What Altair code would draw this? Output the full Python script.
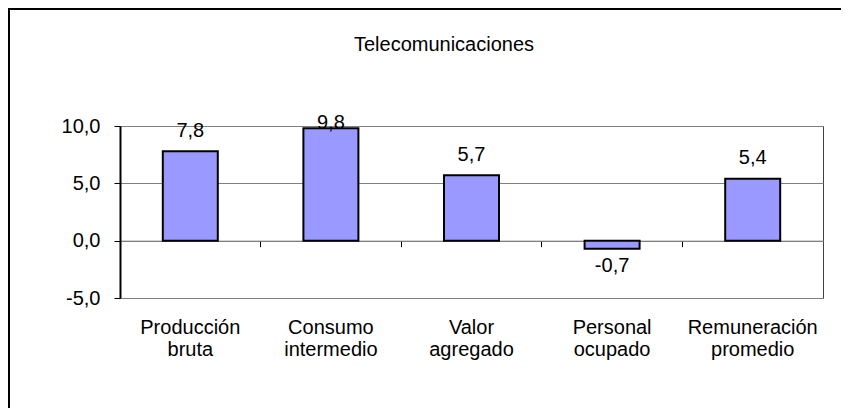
import altair as alt
import pandas as pd

categories = ["Producción bruta", "Consumo intermedio", "Valor agregado",
              "Personal ocupado", "Remuneración promedio"]
values = [7.8, 9.8, 5.7, -0.7, 5.4]
y_ticks = [-5, 0, 5, 10]
title_text = "Telecomunicaciones"

FONT = "Liberation Sans, Arial, sans-serif"
W, H = 703, 172
Y_MIN, Y_MAX = -5, 10
zero_offset = -(H - (Y_MAX - 0) / (Y_MAX - Y_MIN) * H)

df = pd.DataFrame({"cat": categories, "v": values})

fmt = "replace(replace(format(datum.value, '.1f'), '.', ','), '−', '-')"
xscale = alt.Scale(paddingInner=0, paddingOuter=0)
yscale = alt.Scale(domain=[Y_MIN, Y_MAX], nice=False, zero=False)

x_labels = alt.X("cat:N", sort=categories, title=None, scale=xscale,
                 axis=alt.Axis(orient="bottom", domain=False, ticks=False, labelAngle=0,
                               labelFont=FONT, labelFontSize=20, labelColor="black",
                               labelPadding=19, labelLineHeight=22,
                               labelExpr="split(datum.label, ' ')"))

x_zero = alt.X("cat:N", sort=categories, title=None, scale=xscale,
               axis=alt.Axis(orient="bottom", offset=zero_offset, labels=False,
                             ticks=True, bandPosition=0, tickSize=6, tickColor="black",
                             domain=True, domainColor="#808080", domainWidth=1, grid=False))

x_none = alt.X("cat:N", sort=categories, scale=xscale, axis=None)

y_enc = alt.Y("v:Q", title=None, scale=yscale,
              axis=alt.Axis(values=y_ticks, labelExpr=fmt, labelFont=FONT,
                            labelFontSize=20, labelColor="black", labelPadding=14,
                            tickSize=6, tickColor="black", domainColor="black",
                            domainWidth=2, grid=True, gridColor="#808080", gridWidth=1))

base = alt.Chart(df)

labels_layer = base.mark_bar(opacity=0).encode(x=x_labels, y=y_enc)

bars = base.mark_bar(color="#9999FF", stroke="black", strokeWidth=2, size=55).encode(
    x=x_zero, y=alt.Y("v:Q", scale=yscale)
)

lab_expr = "replace(replace(format(datum.v, '.1f'), '.', ','), '−', '-')"
# label anchor: above positive bars (kept near the top of the plot), below negative bars
pos_expr = "datum.v >= 0 ? min(datum.v + 1.8, 10.25) : datum.v - 1.5"
value_text = base.transform_calculate(lbl=lab_expr, ly=pos_expr).mark_text(
    baseline="middle", font=FONT, fontSize=20, color="black").encode(
    x=x_none, y=alt.Y("ly:Q", scale=yscale), text="lbl:N")

one = alt.Chart(pd.DataFrame({"t": [title_text]}))
title = one.mark_text(font=FONT, fontSize=20, color="black", baseline="middle").encode(
    x=alt.value(324), y=alt.value(-81), text="t:N")
border_top = one.mark_rule(color="black", strokeWidth=2).encode(
    x=alt.value(-112), x2=alt.value(W + 60), y=alt.value(-117))
border_left = one.mark_rule(color="black", strokeWidth=2).encode(
    x=alt.value(-111), y=alt.value(-118), y2=alt.value(H + 130))

chart = alt.layer(labels_layer, bars, value_text, title, border_top, border_left).resolve_axis(
    x="independent"
).properties(
    width=W, height=H,
    autosize=alt.AutoSizeParams(type="none"),
    padding={"left": 112, "top": 118, "right": 18, "bottom": 110},
    background="white",
).configure_view(stroke="#404040", strokeWidth=1)

chart.save("out.html", embed_options={"renderer": "svg", "actions": False})
